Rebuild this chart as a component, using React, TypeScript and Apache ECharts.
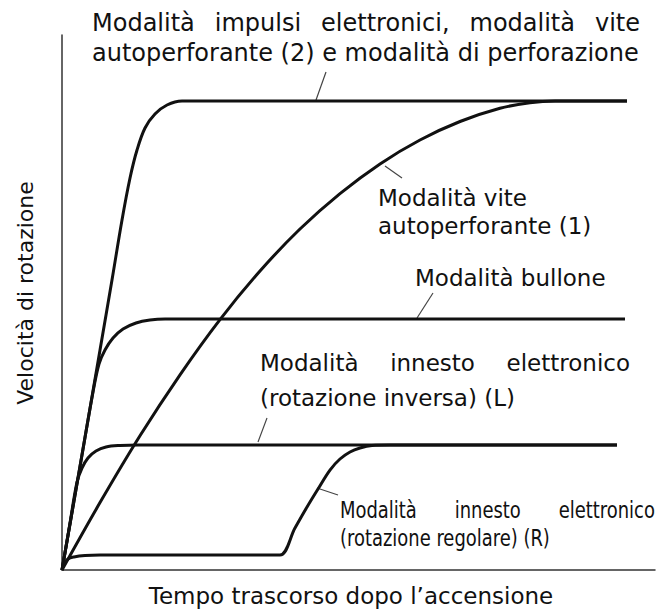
import { useEffect, useRef } from "react";
import * as echarts from "echarts";

// curves: [time, speed] in arbitrary units
const impulsiCurve = [
  [0, 0], [3.37, 21.28], [6.41, 40.71], [8.43, 53.66], [10.12, 64.77],
  [11.47, 72.54], [12.65, 77.72], [14.0, 81.79], [15.68, 84.38],
  [17.71, 86.05], [20.24, 86.79], [95.28, 86.79],
];
const vite1Curve = [
  [0, 0], [6.41, 12.47], [13.15, 24.83], [19.9, 36.12], [26.64, 46.34],
  [33.39, 55.33], [40.13, 63.1], [46.88, 69.65], [53.63, 75.15],
  [60.37, 79.57], [67.12, 82.99], [73.86, 85.44], [78.92, 86.47],
  [83.14, 86.79], [95.28, 86.79],
];
const bulloneCurve = [
  [0, 0], [3.37, 21.28], [5.23, 32.94], [6.24, 38.12], [7.25, 40.71],
  [8.6, 42.93], [10.29, 44.6], [12.48, 45.71], [14.84, 46.26],
  [17.37, 46.45], [94.94, 46.45],
];
const innestoLCurve = [
  [0, 0], [1.35, 8.7], [2.53, 16.28], [3.37, 18.87], [4.38, 20.73],
  [5.73, 22.02], [7.42, 22.76], [9.78, 23.04], [12.82, 23.13], [93.59, 23.13],
];
const innestoRCurve = [
  [0, 0], [0.34, 1.11], [1.01, 2.04], [2.02, 2.41], [3.88, 2.68], [6.41, 2.78],
  [21.0, 2.78], [33.4, 2.78], [36.76, 2.78], [39.29, 7.77], [41.32, 11.66],
  [43.17, 14.99], [45.19, 18.5], [46.88, 20.54], [48.57, 21.84], [50.25, 22.58],
  [52.28, 23.04], [55.31, 23.13], [93.59, 23.13],
];

const FONT = "DejaVu Sans";
const INK = "#111";

// place words so the line fills x0..x1 (justified text)
function justified(text: string, x0: number, x1: number, y: number, size: number, scaleX = 1) {
  const ctx = document.createElement("canvas").getContext("2d")!;
  ctx.font = `${size}px "${FONT}"`;
  const words = text.split(" ");
  const widths = words.map((w) => ctx.measureText(w).width * scaleX);
  const total = widths.reduce((a, b) => a + b, 0);
  const gap = words.length > 1 ? (x1 - x0 - total) / (words.length - 1) : 0;
  let x = x0;
  return words.map((w, i) => {
    const el = {
      type: "text",
      x,
      y,
      scaleX,
      style: { text: w, fill: INK, font: `${size}px "${FONT}"`, verticalAlign: "middle" },
    };
    x += widths[i] + gap;
    return el;
  });
}

function label(text: string, x: number, y: number, size: number, scaleX = 1) {
  return {
    type: "text",
    x,
    y,
    scaleX,
    style: { text, fill: INK, font: `${size}px "${FONT}"`, verticalAlign: "middle" },
  };
}

function leader(x1: number, y1: number, x2: number, y2: number) {
  return {
    type: "line",
    shape: { x1, y1, x2, y2 },
    style: { stroke: "#444", lineWidth: 1.2 },
  };
}

export default function App() {
  const chartRef = useRef<HTMLDivElement>(null);

  useEffect(() => {
    if (!chartRef.current) return;
    const chart = echarts.init(chartRef.current, null, { renderer: "svg" });

    const curve = (name: string, data: number[][]) => ({
      name,
      type: "line",
      data,
      showSymbol: false,
      smooth: 0.35,
      lineStyle: { color: INK, width: 3 },
    });

    const axisCommon = {
      type: "value",
      axisTick: { show: false },
      axisLabel: { show: false },
      splitLine: { show: false },
      axisLine: { lineStyle: { color: "#333", width: 1.5 } },
    };

    chart.setOption({
      animation: false,
      backgroundColor: "#fff",
      grid: { left: 62, right: 4, top: 35, bottom: 39, containLabel: false, outerBoundsMode: "none" },
      xAxis: { ...axisCommon, min: 0, max: 100 },
      yAxis: { ...axisCommon, min: 0, max: 99 },
      series: [
        curve("Modalità impulsi elettronici", impulsiCurve),
        curve("Modalità vite autoperforante (1)", vite1Curve),
        curve("Modalità bullone", bulloneCurve),
        curve("Modalità innesto elettronico (L)", innestoLCurve),
        curve("Modalità innesto elettronico (R)", innestoRCurve),
      ],
      graphic: [
        {
          type: "text",
          x: 351,
          y: 596,
          style: {
            text: "Tempo trascorso dopo l’accensione",
            fill: INK,
            font: `23px "${FONT}"`,
            align: "center",
            verticalAlign: "middle",
          },
        },
        {
          type: "text",
          x: 25,
          y: 293,
          rotation: Math.PI / 2,
          style: {
            text: "Velocità di rotazione",
            fill: INK,
            font: `22px "${FONT}"`,
            align: "center",
            verticalAlign: "middle",
          },
        },
        ...justified("Modalità impulsi elettronici, modalità vite", 92, 640, 23, 24),
        label("autoperforante (2) e modalità di perforazione", 92, 53, 24),
        leader(316, 100, 326, 72),
        label("Modalità vite", 378, 198, 23),
        label("autoperforante (1)", 378, 226, 23),
        leader(385, 166, 402, 178),
        label("Modalità bullone", 415, 278, 23),
        leader(433, 293, 417, 318),
        ...justified("Modalità innesto elettronico", 260, 630, 363, 23),
        label("(rotazione inversa) (L)", 260, 398, 23),
        leader(258, 442, 267, 418),
        ...justified("Modalità innesto elettronico", 340, 655, 510, 23, 0.78),
        label("(rotazione regolare) (R)", 340, 538, 23, 0.78),
        leader(317, 488, 338, 495),
      ],
    });

    return () => {
      chart.dispose();
    };
  }, []);

  return (
    <div
      ref={chartRef}
      style={{ position: "fixed", left: 0, top: 0, width: 659, height: 609, background: "#fff" }}
    />
  );
}
